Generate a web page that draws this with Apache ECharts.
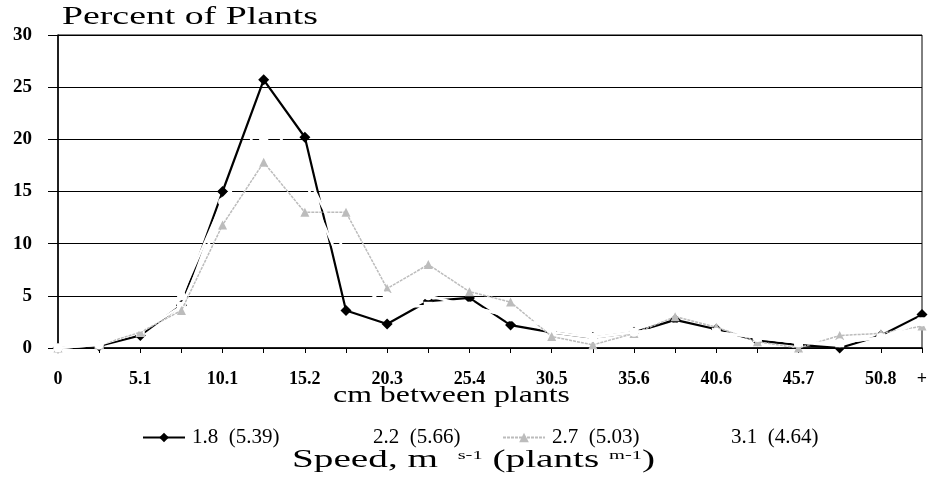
<!DOCTYPE html>
<html><head><meta charset="utf-8">
<script src="https://cdn.jsdelivr.net/npm/echarts@6/dist/echarts.min.js"></script>
<style>html,body{margin:0;padding:0;background:#fff}#c{width:933px;height:477px}</style>
</head><body><div id="c"></div>
<script>
// ---- data ----
const categories = ['0','2.5','5.1','7.6','10.1','12.7','15.2','17.8','20.3','22.9','25.4','27.9','30.5','33.0','35.6','38.1','40.6','43.2','45.7','48.3','50.8','+'];
const seriesNames = ['1.8  (5.39)', '2.2  (5.66)', '2.7  (5.03)', '3.1  (4.64)'];
const s18 = [0, 0.2, 1.2, 4.1, 15.0, 25.7, 20.2, 3.6, 2.3, 4.5, 4.8, 2.2, 1.5, 1.0, 1.5, 2.7, 1.8, 0.7, 0.3, 0, 1.2, 3.2];
const s22 = [0, 0.3, 1.5, 4.0, 13.0, 23.0, 16.0, 7.0, 4.0, 4.0, 4.0, 3.0, 1.5, 1.0, 1.5, 2.0, 1.5, 1.0, 0.5, 0.5, 1.0, 2.5];
const s27 = [0, 0.3, 1.5, 3.6, 11.8, 17.8, 13.0, 13.0, 5.7, 8.0, 5.4, 4.4, 1.1, 0.3, 1.4, 3.0, 2.0, 0.6, 0, 1.2, 1.4, 2.1];
const s31 = [0, 0.3, 2.0, 5.0, 14.0, 20.0, 17.0, 9.0, 5.0, 5.0, 4.0, 3.0, 2.0, 1.0, 1.5, 2.0, 1.5, 1.0, 0.5, 0.5, 1.0, 2.5];
const yMin = 0, yMax = 30, yStep = 5;
const titleText = 'Percent of Plants';
const xTitle = 'cm between plants';

// ---- text fitting helpers ----
const FAM = '"Liberation Serif", "Times New Roman", serif';
const mctx = document.createElement('canvas').getContext('2d');
function tw(text, size, weight) { mctx.font = (weight || 'normal') + ' ' + size + 'px ' + FAM; return mctx.measureText(text).width; }
function fitText(text, size, left, top, targetW, weight) {
  const s = targetW / tw(text, size, weight);
  return { type: 'text', x: left, y: top, scaleX: s, silent: true,
    style: { text: text, fontSize: size, fontFamily: FAM, fontWeight: weight || 'normal', fill: '#000',
      textAlign: 'left', align: 'left', textVerticalAlign: 'top', verticalAlign: 'top' } };
}
function speedLine(left, top, targetW) {
  const parts = [
    { t: 'Speed, m  ', size: 25, dy: 0 },
    { t: 's-1', size: 13, dy: 1 },
    { t: ' (plants ', size: 25, dy: 0 },
    { t: 'm-1', size: 13, dy: 1 },
    { t: ')', size: 25, dy: 0 }
  ];
  const total = parts.reduce((a, p) => a + tw(p.t, p.size), 0);
  const s = targetW / total;
  let cx = left; const els = [];
  parts.forEach(p => {
    els.push({ type: 'text', x: cx, y: top + p.dy, scaleX: s, silent: true,
      style: { text: p.t, fontSize: p.size, fontFamily: FAM, fill: '#000',
        textAlign: 'left', align: 'left', textVerticalAlign: 'top', verticalAlign: 'top' } });
    cx += tw(p.t, p.size) * s;
  });
  return els;
}

const chart = echarts.init(document.getElementById('c'), null, { renderer: 'canvas' });

const colors = ['#000000', '#ffffff', '#bcbcbc', '#ffffff'];
const symbols = ['diamond', 'rect', 'triangle', 'circle'];
const datas = [s18, s22, s27, s31];
const series = datas.map((d, i) => ({
  name: seriesNames[i], type: 'line', data: d,
  symbol: symbols[i], symbolSize: i === 0 ? 11 : 9,
  itemStyle: { color: colors[i] },
  lineStyle: { color: colors[i], width: i === 0 ? 2.2 : (i === 2 ? 1.5 : 2.5), type: i === 2 ? [3, 1] : 'solid' },
  emphasis: { disabled: true }, z: 2 + i
}));

const legendLefts = [137, 318, 497, 676];
const legends = seriesNames.map((n, i) => ({
  data: [n], left: legendLefts[i], top: 422, itemWidth: 42, itemHeight: 12, itemGap: 4,
  textStyle: { fontFamily: FAM, fontSize: 21, color: '#000', padding: [0, 0, 0, 2] },
  selectedMode: false
}));

chart.setOption({
  animation: false,
  backgroundColor: '#fff',
  grid: { left: 58, right: 11, top: 35, bottom: 129, show: true, borderColor: '#000', borderWidth: 1 },
  legend: legends,
  xAxis: {
    type: 'category', data: categories, boundaryGap: false,
    axisLine: { lineStyle: { color: '#000', width: 1.5 } },
    axisTick: { show: true, interval: 0, length: 5, lineStyle: { color: '#000' } },
    axisLabel: {
      interval: (i) => i % 2 === 0 || i === categories.length - 1,
      margin: 22, color: '#000', fontFamily: FAM, fontWeight: 'bold', fontSize: 18, hideOverlap: false
    },
    splitLine: { show: false }
  },
  yAxis: {
    type: 'value', min: yMin, max: yMax, interval: yStep,
    axisLine: { show: true, lineStyle: { color: '#000', width: 1.5 } },
    axisTick: { show: true, length: 10, lineStyle: { color: '#000' } },
    axisLabel: { margin: 26, color: '#000', fontFamily: FAM, fontWeight: 'bold', fontSize: 19 },
    splitLine: { show: true, lineStyle: { color: '#000', width: 1.2 } }
  },
  graphic: [
    fitText(titleText, 26, 62, 4, 256),
    fitText(xTitle, 23, 333, 384, 237),
    ...speedLine(292, 448, 363)
  ],
  series: series
});
</script></body></html>
